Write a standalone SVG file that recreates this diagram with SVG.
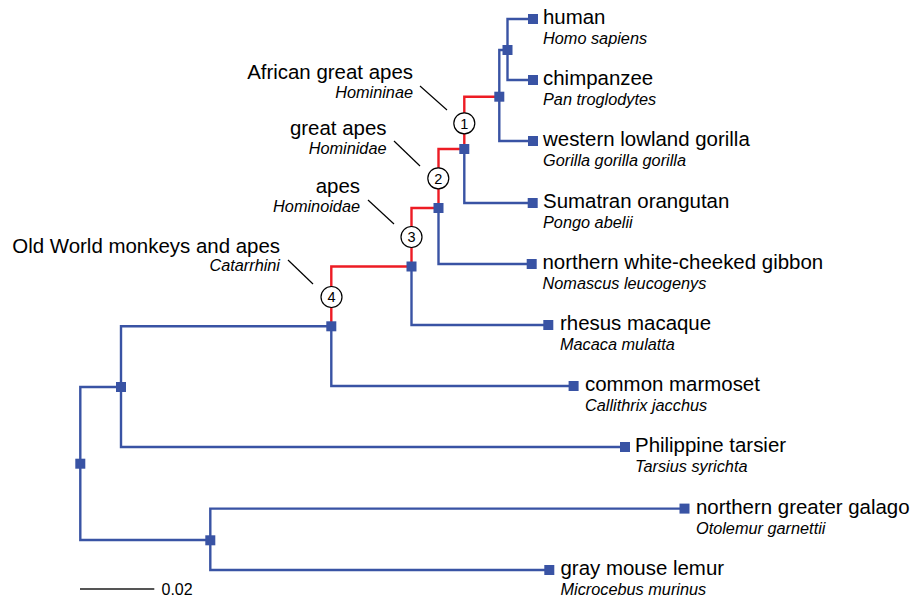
<svg xmlns="http://www.w3.org/2000/svg" width="910" height="599" viewBox="0 0 910 599">
<style>
.b{fill:none;stroke:#3953a4;stroke-width:2.4}
.r{fill:none;stroke:#ed1c24;stroke-width:2.4}
.sq{fill:#3953a4}
.n{font-family:"Liberation Sans",Arial,sans-serif;font-size:20.45px;fill:#000}
.i{font-family:"Liberation Sans",Arial,sans-serif;font-size:16.3px;font-style:italic;fill:#000}
.c{fill:#fff;stroke:#000;stroke-width:1.2}
.ct{font-family:"Liberation Sans",Arial,sans-serif;font-size:14.5px;fill:#000;text-anchor:middle}
.ld{stroke:#000;stroke-width:1.2}
.e{text-anchor:end}
</style>
<rect width="910" height="599" fill="#fff"/>
<g id="connectors">
<path class="b" d="M533,19H507.5V80H533"/>
<path class="b" d="M507.5,50H499.3V141H533"/>
<path class="r" d="M499.3,96.7H464.3V149"/>
<path class="b" d="M464.3,149V203H532.7"/>
<path class="r" d="M464.3,149H438.5V208"/>
<path class="b" d="M438.5,208V264H531.7"/>
<path class="r" d="M438.5,208H411.5V266.5"/>
<path class="b" d="M411.5,266.5V325H548.3"/>
<path class="r" d="M411.5,266.5H331.3V326.3"/>
<path class="b" d="M331.3,326.3V386H573.6"/>
<path class="b" d="M331.3,326.3H121V447H625"/>
<path class="b" d="M121,387H80.3V540H210.3"/>
<path class="b" d="M684.5,508.6H210.3V570H549.3"/>
<line class="ld" x1="420" y1="86" x2="447" y2="110"/>
<line class="ld" x1="394" y1="141" x2="420" y2="166"/>
<line class="ld" x1="368" y1="200" x2="394" y2="224"/>
<line class="ld" x1="288" y1="260" x2="313" y2="284"/>
</g>
<g id="node-hc"><rect class="sq" x="502.5" y="45" width="10" height="10"/></g>
<g id="node-hcg"><rect class="sq" x="494.3" y="91.7" width="10" height="10"/></g>
<g id="node-homininae"><rect class="sq" x="459.3" y="144" width="10" height="10"/></g>
<g id="node-hominidae"><rect class="sq" x="433.5" y="203" width="10" height="10"/></g>
<g id="node-hominoidae"><rect class="sq" x="406.5" y="261.5" width="10" height="10"/></g>
<g id="node-catarrhini"><rect class="sq" x="326.3" y="321.3" width="10" height="10"/></g>
<g id="node-haplorhini"><rect class="sq" x="116" y="382" width="10" height="10"/></g>
<g id="node-root"><rect class="sq" x="75.3" y="458.7" width="10" height="10"/></g>
<g id="node-strepsirrhini"><rect class="sq" x="205.3" y="535.3" width="10" height="10"/></g>

<g id="leaf-human"><rect class="sq" x="528" y="14" width="10" height="10"/><text class="n" x="543" y="24">human</text><text class="i" x="543" y="44">Homo sapiens</text></g>
<g id="leaf-chimpanzee"><rect class="sq" x="528" y="75" width="10" height="10"/><text class="n" x="543" y="85">chimpanzee</text><text class="i" x="543" y="105">Pan troglodytes</text></g>
<g id="leaf-gorilla"><rect class="sq" x="528" y="136" width="10" height="10"/><text class="n" x="543" y="146">western lowland gorilla</text><text class="i" x="543" y="166">Gorilla gorilla gorilla</text></g>
<g id="leaf-orangutan"><rect class="sq" x="527.7" y="198" width="10" height="10"/><text class="n" x="543" y="208">Sumatran orangutan</text><text class="i" x="543" y="228">Pongo abelii</text></g>
<g id="leaf-gibbon"><rect class="sq" x="526.7" y="259" width="10" height="10"/><text class="n" x="542.5" y="269">northern white-cheeked gibbon</text><text class="i" x="542.5" y="289">Nomascus leucogenys</text></g>
<g id="leaf-macaque"><rect class="sq" x="543.3" y="320" width="10" height="10"/><text class="n" x="560" y="330">rhesus macaque</text><text class="i" x="560" y="350">Macaca mulatta</text></g>
<g id="leaf-marmoset"><rect class="sq" x="568.6" y="381" width="10" height="10"/><text class="n" x="585" y="391">common marmoset</text><text class="i" x="585" y="411">Callithrix jacchus</text></g>
<g id="leaf-tarsier"><rect class="sq" x="620" y="442" width="10" height="10"/><text class="n" x="635" y="452">Philippine tarsier</text><text class="i" x="635" y="472">Tarsius syrichta</text></g>
<g id="leaf-galago"><rect class="sq" x="679.5" y="503.6" width="10" height="10"/><text class="n" x="696" y="513.6">northern greater galago</text><text class="i" x="696" y="533.6">Otolemur garnettii</text></g>
<g id="leaf-lemur"><rect class="sq" x="544.3" y="565" width="10" height="10"/><text class="n" x="560.5" y="575">gray mouse lemur</text><text class="i" x="560.5" y="595">Microcebus murinus</text></g>

<g id="clade-1"><circle class="c" cx="464.3" cy="123.3" r="10.5"/><text class="ct" x="464.3" y="128.5">1</text><text class="n e" x="413" y="79">African great apes</text><text class="i e" x="413" y="97.5">Homininae</text></g>
<g id="clade-2"><circle class="c" cx="438.3" cy="178.3" r="10.5"/><text class="ct" x="438.3" y="183.5">2</text><text class="n e" x="386.5" y="135">great apes</text><text class="i e" x="386.5" y="153.5">Hominidae</text></g>
<g id="clade-3"><circle class="c" cx="411.5" cy="237" r="10.5"/><text class="ct" x="411.5" y="242.2">3</text><text class="n e" x="360" y="193">apes</text><text class="i e" x="360" y="211.5">Hominoidae</text></g>
<g id="clade-4"><circle class="c" cx="331.5" cy="297" r="10.5"/><text class="ct" x="331.5" y="302.2">4</text><text class="n e" x="280" y="252.5">Old World monkeys and apes</text><text class="i e" x="280" y="271">Catarrhini</text></g>

<g id="scale"><line x1="80" y1="589" x2="154.3" y2="589" stroke="#555" stroke-width="2"/><text x="161.5" y="594.5" font-family="Liberation Sans, Arial, sans-serif" font-size="16" fill="#000">0.02</text></g>
</svg>
